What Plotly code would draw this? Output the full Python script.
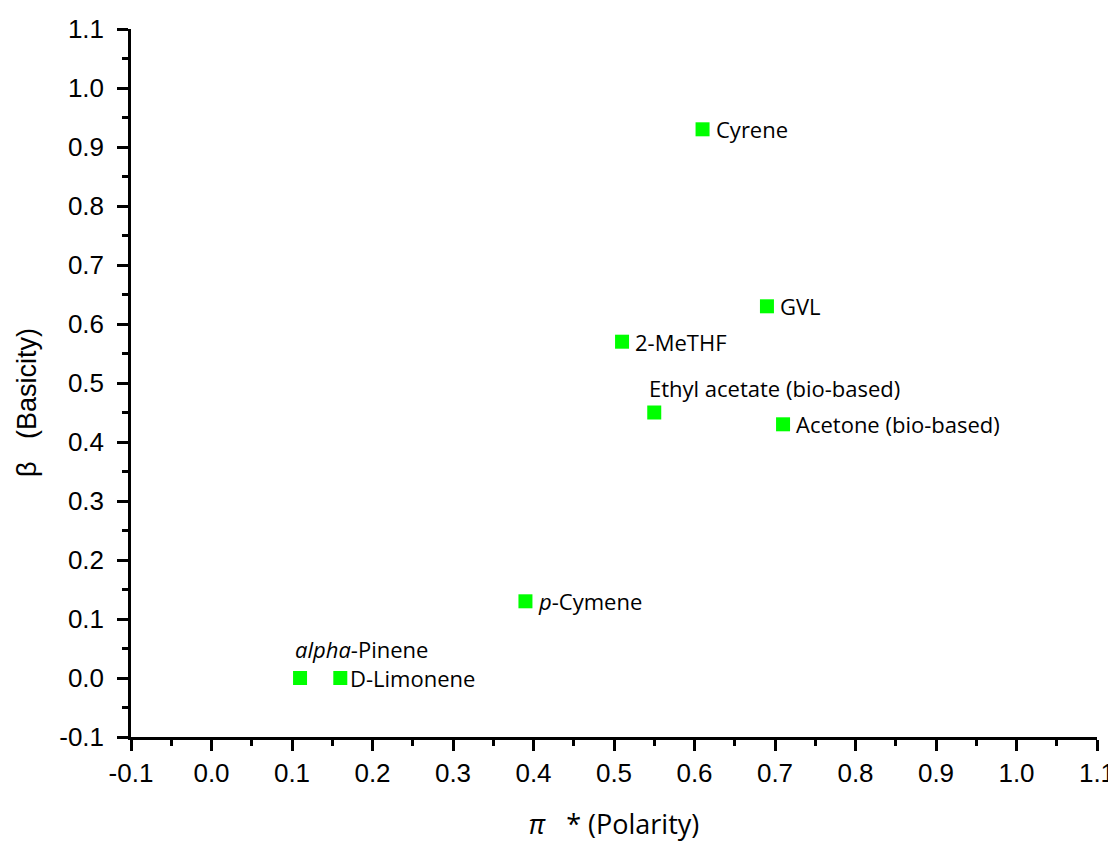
import plotly.graph_objects as go

solvents = ["alpha-Pinene", "D-Limonene", "p-Cymene", "2-MeTHF", "Ethyl acetate (bio-based)",
            "Acetone (bio-based)", "GVL", "Cyrene"]
label_text = ["<i>alpha</i>-Pinene", "D-Limonene", "<i>p</i>-Cymene", "2-MeTHF",
              "Ethyl acetate (bio-based)", "Acetone (bio-based)", "GVL", "Cyrene"]
polarity = [0.11, 0.16, 0.39, 0.51, 0.55, 0.71, 0.69, 0.61]
basicity = [0.00, 0.00, 0.13, 0.57, 0.45, 0.43, 0.63, 0.93]
label_pos = ["above_high", "right_close", "right", "right", "above", "right", "right", "right"]

x_ticks = [round(-0.1 + 0.1 * i, 1) for i in range(13)]
y_ticks = x_ticks

fig = go.Figure()
fig.add_trace(go.Scatter(
    x=polarity, y=basicity, mode="markers",
    marker=dict(symbol="square", size=14, color="#00FF00", line=dict(width=0)),
    hoverinfo="text", text=solvents, showlegend=False,
))

label_font = dict(family="Open Sans, Lato, sans-serif", size=22, color="black")
shifts = {"above": (-7, 25), "above_high": (-7, 29), "right_close": (8, 0), "right": (11, 0)}
for xv, yv, t, pos in zip(polarity, basicity, label_text, label_pos):
    xs, ys = shifts[pos]
    fig.add_annotation(x=xv, y=yv, text=t, showarrow=False, xanchor="left", yanchor="middle",
                       xshift=xs, yshift=ys, font=label_font)

# y-axis title as rotated text
fig.add_annotation(x=0, y=0.5, xref="paper", yref="paper", text="β   (Basicity)", textangle=-90,
                   showarrow=False, xanchor="center", yanchor="middle", xshift=-104, yshift=-20,
                   font=dict(family="Liberation Sans, Arial, sans-serif", size=27, color="black"))

axis_common = dict(
    showgrid=False, zeroline=False, showline=True, linecolor="black", linewidth=2.5,
    ticks="outside", ticklen=11, tickwidth=2.5, tickcolor="black",
    tickfont=dict(family="Liberation Sans, Arial, sans-serif", size=26, color="black"),
    mirror=False, automargin=False,
    minor=dict(ticks="outside", ticklen=6, tickwidth=2.5, tickcolor="black", dtick=0.05, showgrid=False),
)

fig.update_xaxes(range=[-0.1, 1.1], tickvals=x_ticks, ticktext=[f"{v:.1f}" for v in x_ticks],
                 title=dict(text="<i>π</i>   * (Polarity)", standoff=29,
                            font=dict(family="Open Sans, Lato, sans-serif", size=27, color="black")),
                 **axis_common)
fig.update_yaxes(range=[-0.1, 1.1], tickvals=y_ticks, ticktext=[f"{v:.1f}" for v in y_ticks],
                 ticklabelstandoff=8, **axis_common)

fig.update_layout(
    width=1116, height=843,
    margin=dict(l=123, r=27, t=21, b=114),
    plot_bgcolor="white", paper_bgcolor="white",
)

fig.write_html("out.html")
